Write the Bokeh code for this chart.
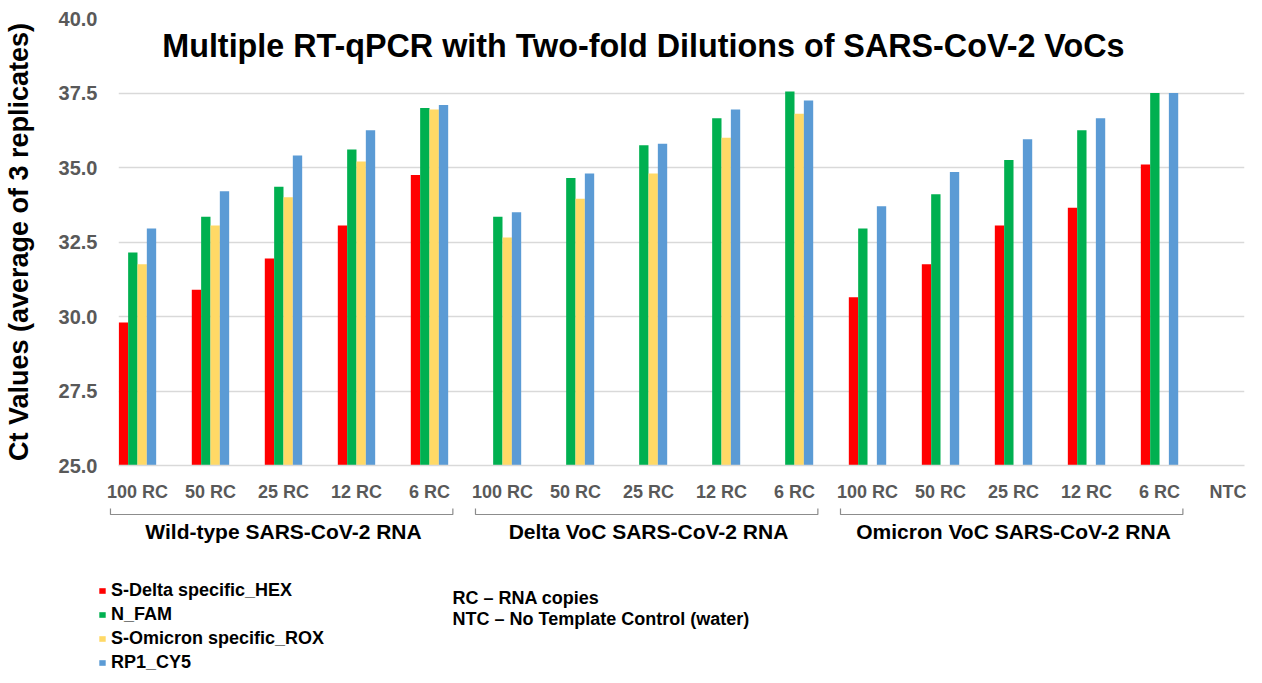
from bokeh.plotting import figure
from bokeh.layouts import column
from bokeh.models import (Range1d, FixedTicker, Label, Legend, LegendItem,
                          ColumnDataSource, NumeralTickFormatter)
from bokeh.core.properties import value
from bokeh.transform import dodge
from bokeh.embed import file_html
from bokeh.resources import INLINE

nan = float("nan")

# ---------------- data ----------------
dilutions = ["100 RC", "50 RC", "25 RC", "12 RC", "6 RC"]
groups = ["Wild-type SARS-CoV-2 RNA", "Delta VoC SARS-CoV-2 RNA", "Omicron VoC SARS-CoV-2 RNA"]
categories = dilutions * 3 + ["NTC"]

series_names = ["S-Delta specific_HEX", "N_FAM", "S-Omicron specific_ROX", "RP1_CY5"]
series_colors = ["#FF0000", "#00B050", "#FFD966", "#5B9BD5"]

s_delta_hex = [29.8, 30.9, 31.95, 33.05, 34.75,
               nan, nan, nan, nan, nan,
               30.65, 31.75, 33.05, 33.65, 35.1,
               nan]
n_fam = [32.15, 33.35, 34.35, 35.6, 37.0,
         33.35, 34.65, 35.75, 36.65, 37.55,
         32.95, 34.1, 35.25, 36.25, 37.5,
         nan]
s_omicron_rox = [31.75, 33.05, 34.0, 35.2, 36.95,
                 32.65, 33.95, 34.8, 36.0, 36.8,
                 nan, nan, nan, nan, nan,
                 nan]
rp1_cy5 = [32.95, 34.2, 35.4, 36.25, 37.1,
           33.5, 34.8, 35.8, 36.95, 37.25,
           33.7, 34.85, 35.95, 36.65, 37.5,
           nan]

notes = ["RC \u2013 RNA copies", "NTC \u2013 No Template Control (water)"]
title_text = "Multiple RT-qPCR with Two-fold Dilutions of SARS-CoV-2 VoCs"
y_title = "Ct Values (average of 3 replicates)"

FONT = "Liberation Sans"
GRAY = "#595959"

# ---------------- layout constants ----------------
W = 1246
LEFT, RIGHT = 118, 2
TOP, BOTTOM = 18, 30
FRAME_H = 456
H1 = TOP + FRAME_H + BOTTOM
H2 = 673 - H1
X0, X1 = -0.26, 15.164
Y0, Y1 = 25.0, 40.0

# ---------------- main chart ----------------
p = figure(width=W, height=H1,
           x_range=Range1d(X0, X1), y_range=Range1d(Y0, Y1),
           output_backend="svg", toolbar_location=None,
           min_border_left=LEFT, min_border_right=RIGHT, min_border_top=TOP,
           min_border_bottom=BOTTOM)
p.outline_line_color = None
p.frame_align = False

xs = list(range(len(categories)))
src = ColumnDataSource(dict(x=xs, hex=s_delta_hex, fam=n_fam, rox=s_omicron_rox, cy5=rp1_cy5))

bw = 0.128
cols = ["hex", "fam", "rox", "cy5"]
for k, (col, color) in enumerate(zip(cols, series_colors)):
    off = (k - 1.5) * bw
    p.vbar(x=dodge("x", off, range=p.x_range), top=col, bottom=Y0, width=bw,
           source=src, fill_color=color, line_color=None)

p.xaxis.ticker = FixedTicker(ticks=xs)
p.xaxis.major_label_overrides = {i: c for i, c in enumerate(categories)}
p.xaxis.major_tick_line_color = None
p.xaxis.minor_tick_line_color = None
p.xaxis.axis_line_color = "#D9D9D9"
p.xaxis.axis_line_width = 1.5
p.xaxis.major_label_text_font = FONT
p.xaxis.major_label_text_font_style = "bold"
p.xaxis.major_label_text_font_size = "18px"
p.xaxis.major_label_text_color = GRAY
p.xaxis.major_label_standoff = 10
p.xgrid.grid_line_color = None

p.yaxis.ticker = FixedTicker(ticks=[25, 27.5, 30, 32.5, 35, 37.5, 40])
p.yaxis.formatter = NumeralTickFormatter(format="0.0")
p.yaxis.axis_line_color = None
p.yaxis.major_tick_line_color = None
p.yaxis.minor_tick_line_color = None
p.yaxis.major_label_text_font = FONT
p.yaxis.major_label_text_font_style = "bold"
p.yaxis.major_label_text_font_size = "20px"
p.yaxis.major_label_text_color = GRAY
p.yaxis.major_label_standoff = 15
p.yaxis.axis_label = y_title
p.yaxis.axis_label_text_font = FONT
p.yaxis.axis_label_text_font_style = "bold"
p.yaxis.axis_label_text_font_size = "27px"
p.yaxis.axis_label_text_color = "black"
p.yaxis.axis_label_standoff = 22
p.ygrid.grid_line_color = "#D9D9D9"
p.ygrid.grid_line_width = 1.5

p.add_layout(Label(x=6.93, y=39.08, text=title_text, text_font=FONT, text_font_style="bold",
                   text_font_size="32.3px", text_color="black", text_align="center",
                   text_baseline="middle"))

# ---------------- bottom panel (brackets, group names, legend, notes) ----------------
kpx = (X1 - X0) / (W - LEFT - RIGHT)          # data units per pixel
q = figure(width=W, height=H2,
           x_range=Range1d(X0 - LEFT * kpx, X1 + RIGHT * kpx), y_range=Range1d(H2, 0),
           output_backend="svg", toolbar_location=None,
           x_axis_location=None, y_axis_location=None, min_border=0)
q.min_border_left = q.min_border_right = q.min_border_top = q.min_border_bottom = 0
q.frame_align = False
q.outline_line_color = None
q.grid.visible = False

bxs, bys = [], []
for g in range(len(groups)):
    first, last = g * 5, g * 5 + 4
    xl, xr = first - 0.37, last + 0.32
    bxs.append([xl, xl, xr, xr])
    bys.append([4, 10, 10, 4])
q.multi_line(xs=bxs, ys=bys, line_color="#8C8C8C", line_width=1.2)

q.text(x=[g * 5 + 2 for g in range(len(groups))], y=[26.5] * len(groups), text=groups,
       text_font=value(FONT), text_font_style="bold", text_font_size="21px",
       text_color="black", text_align="center", text_baseline="middle")

note_x = X0 + (452 - LEFT) * kpx
q.text(x=[note_x] * len(notes), y=[93.5, 114.0], text=notes,
       text_font=value(FONT), text_font_style="bold", text_font_size="18px",
       text_color="black", text_align="left", text_baseline="middle")

# legend swatches (renderers with no visible marks, used only for the legend)
dummies = [q.vbar(x=[nan], top=[nan], bottom=[nan], width=0.1, fill_color=c, line_color=None)
           for c in series_colors]
legend = Legend(items=[LegendItem(label=n, renderers=[r]) for n, r in zip(series_names, dummies)],
                location=(98, 0), orientation="vertical",
                glyph_width=8, glyph_height=7, label_standoff=5, spacing=3,
                label_height=20, padding=0, margin=0,
                label_text_font=FONT, label_text_font_style="bold",
                label_text_font_size="18px", label_text_color="black",
                border_line_color=None, background_fill_alpha=0)
q.add_layout(legend, "center")

layout = column(p, q, spacing=0)
open("out.html", "w").write(file_html(layout, INLINE))
